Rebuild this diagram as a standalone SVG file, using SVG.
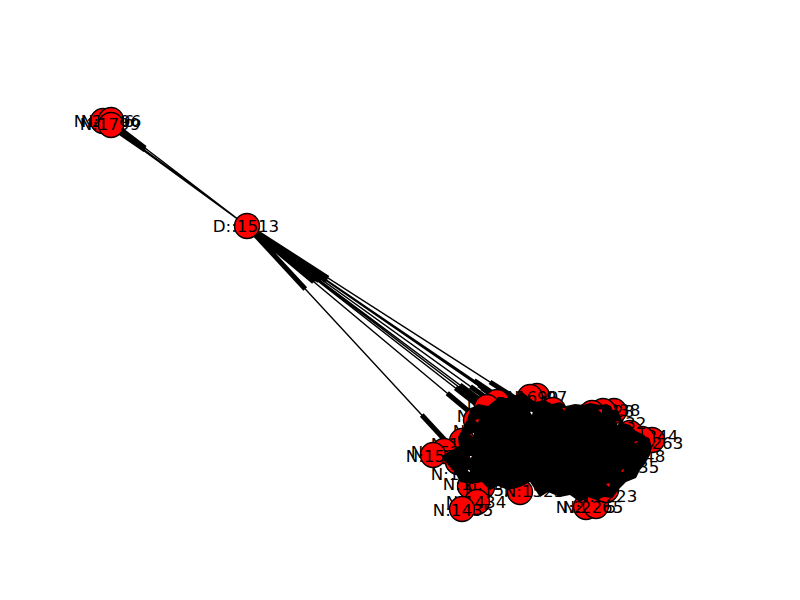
<svg xmlns="http://www.w3.org/2000/svg" width="800" height="600" viewBox="0 0 800 600">
<style>
.e{stroke:#000;stroke-width:1.4;fill:none}
.h{stroke:#000;stroke-width:5;fill:none}
.n circle{fill:#f00;stroke:#000;stroke-width:1.4}
.n text{font-family:"DejaVu Sans",sans-serif;font-size:16.67px;fill:#000;text-anchor:middle;dominant-baseline:central}
</style>
<rect width="800" height="600" fill="#fff"/>
<g id="connectors">
<path class="e" d="M247 226L111 122M247 226L103 121M247 226L111 125M247 226L480 478M247 226L514 449M247 226L525 442M247 226L531 438M247 226L535 445M247 226L545 440M247 226L550 432M247 226L556 438M247 226L560 442M247 226L565 445M247 226L571 434"/>
<path class="h" d="M145 148L111 122M145 150L103 121M145 150L111 125M305.25 289L247 226M421.75 415L480 478M313.75 281.75L247 226M447.25 393.25L514 449M316.5 280L247 226M455.5 388L525 442M318 279L247 226M460 385L531 438M319 280.75L247 226M463 390.25L535 445M321.5 279.5L247 226M470.5 386.5L545 440M322.75 277.5L247 226M474.25 380.5L550 432M324.25 279L247 226M478.75 385L556 438M325.25 280L247 226M481.75 388L560 442M326.5 280.75L247 226M485.5 390.25L565 445M328 278L247 226M490 382L571 434"/>
</g>
<g id="n-d1513" class="n"><circle cx="247" cy="226" r="12.5"/><text x="246" y="226">D::1513</text></g>
<g id="n-2176" class="n"><circle cx="103" cy="121" r="12.5"/><text x="104" y="121">N:2176</text></g>
<g id="n-1796" class="n"><circle cx="111" cy="120" r="12.5"/><text x="111" y="121">N:1796</text></g>
<g id="n-1799" class="n"><circle cx="111" cy="125" r="12.5"/><text x="110" y="124">N:1799</text></g>
<g id="n-1697" class="n"><circle cx="537" cy="396" r="12.5"/><text x="537" y="397">N:1697</text></g>
<g id="n-1690" class="n"><circle cx="530" cy="397" r="12.5"/><text x="528" y="397">N:1690</text></g>
<g id="n-a1" class="n"><circle cx="497" cy="402" r="12.5"/><text x="497" y="403">N:1512</text></g>
<g id="n-a2" class="n"><circle cx="487" cy="407" r="12.5"/><text x="487" y="416">N:1514</text></g>
<g id="n-a3" class="n"><circle cx="476" cy="420" r="12.5"/><text x="483" y="431">N:1516</text></g>
<g id="n-a4" class="n"><circle cx="462" cy="441" r="12.5"/><text x="461" y="444">N:1518</text></g>
<g id="n-a5" class="n"><circle cx="444" cy="451" r="12.5"/><text x="441" y="452">N:1520</text></g>
<g id="n-a6" class="n"><circle cx="433" cy="455" r="12.5"/><text x="436" y="456">N:1521</text></g>
<g id="n-a7" class="n"><circle cx="458" cy="462" r="12.5"/><text x="461" y="474">N:1522</text></g>
<g id="n-a8" class="n"><circle cx="470" cy="486" r="12.5"/><text x="473" y="484">N:1523</text></g>
<g id="n-a9" class="n"><circle cx="482" cy="487" r="12.5"/><text x="495" y="490">N:1524</text></g>
<g id="n-1434" class="n"><circle cx="477" cy="502" r="12.5"/><text x="476" y="502">N:1434</text></g>
<g id="n-1435" class="n"><circle cx="462" cy="509" r="12.5"/><text x="463" y="510">N:1435</text></g>
<g id="n-b1" class="n"><circle cx="520" cy="492" r="12.5"/><text x="534" y="491">N:1525</text></g>
<g id="n-2255" class="n"><circle cx="586" cy="507" r="12.5"/><text x="586" y="507">N:2255</text></g>
<g id="n-2265" class="n"><circle cx="596" cy="506" r="12.5"/><text x="593" y="507">N:2265</text></g>
<g id="n-b2" class="n"><circle cx="606" cy="490" r="12.5"/><text x="607" y="496">N:2223</text></g>
<g id="n-b3" class="n"><circle cx="625" cy="467" r="12.5"/><text x="629" y="467">N:2235</text></g>
<g id="n-b4" class="n"><circle cx="628" cy="456" r="12.5"/><text x="635" y="456">N:2248</text></g>
<g id="n-b5" class="n"><circle cx="652" cy="440" r="12.5"/><text x="648" y="436">N:2244</text></g>
<g id="n-b6" class="n"><circle cx="642" cy="439" r="12.5"/><text x="653" y="443">N:2263</text></g>
<g id="n-b7" class="n"><circle cx="630" cy="433" r="12.5"/><text x="616" y="423">N:2232</text></g>
<g id="n-b8" class="n"><circle cx="614" cy="411" r="12.5"/><text x="610" y="410">N:2238</text></g>
<g id="n-b9" class="n"><circle cx="603" cy="411" r="12.5"/><text x="604" y="411">N:2228</text></g>
<g id="n-c1" class="n"><circle cx="592" cy="413" r="12.5"/></g>
<g id="n-c2" class="n"><circle cx="577" cy="418" r="12.5"/></g>
<g id="n-c3" class="n"><circle cx="553" cy="410" r="12.5"/></g>
<path id="label-mass" fill="#000" fill-rule="evenodd" d="M470 410L478 404L488 406L498 398L510 398L522 392L535 402L544 400L552 404L560 402L566 406L575 404L583 405L590 403L600 405L607 404L613 410L618 410L623 423L630 425L636 431L644 435L650 441L652 447L650 455L645 464L640 470L636 478L626 482L620 488L612 498L604 497L596 500L588 497L580 502L570 495L560 497L548 492L540 497L530 482L520 487L508 490L498 486L490 490L482 482L472 484L460 482L455 472L448 465L442 456L452 450L459 446L458 437L463 428L467 420Z M470 434L474 433L473 437Z M475 420L479 419L478 423Z M468 456L472 456L470 459Z M466 470L470 468L470 472Z M598 410L602 409L602 413Z M615 422L619 421L618 425Z M634 442L638 441L637 445Z M620 470L624 469L623 473Z M606 484L610 483L609 487Z M562 408L566 408L565 411Z M530 412L533 411L532 415Z"/>
</svg>
